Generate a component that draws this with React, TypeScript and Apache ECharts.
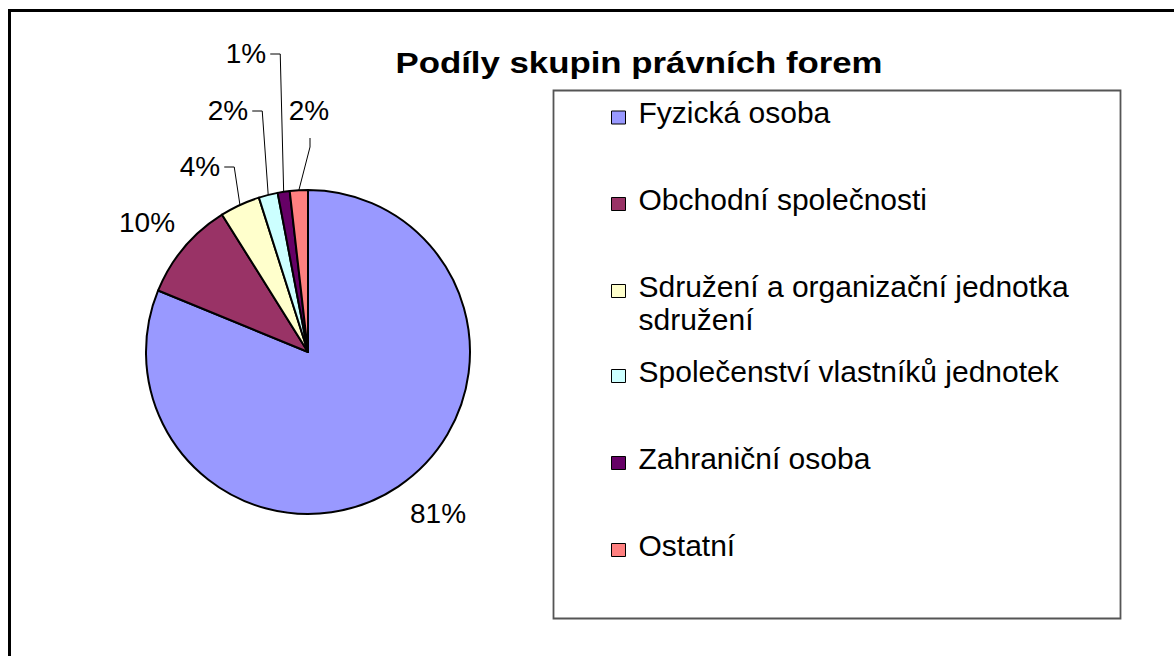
import React, { useEffect, useRef } from 'react';
import * as echarts from 'echarts';

// ---- data ----
const categories = [
  'Fyzická osoba',
  'Obchodní společnosti',
  'Sdružení a organizační jednotka sdružení',
  'Společenství vlastníků jednotek',
  'Zahraniční osoba',
  'Ostatní',
];
const shares = [81.2, 9.9, 4.0, 1.9, 1.2, 1.8];
const colors = ['#9999FF', '#993366', '#FFFFCC', '#CCFFFF', '#660066', '#FF8080'];
const titleText = 'Podíly skupin právních forem';

// ---- layout ----
const FONT = '"Liberation Sans", Arial, Helvetica, sans-serif';
const PIE_CENTER = [308, 352];
const PIE_RADIUS = 162;
const LABEL_CENTERS = [
  [438, 513],
  [147, 222],
  [200, 166],
  [228, 110],
  [246, 53],
  [309, 110],
];
const LEADER = ['none', 'none', 'side', 'side', 'side', 'below'];
const LEGEND_ICON_Y = [117.5, 204, 291, 376, 463, 550];

export default function App() {
  const ref = useRef<HTMLDivElement>(null);

  useEffect(() => {
    if (!ref.current) return;
    const chart = echarts.init(ref.current, undefined, { renderer: 'svg' });

    const legends = categories.map((name, i) => {
      const wrapped = /\ssdružení$/.test(name);
      return {
        data: [name],
        formatter: (n: string) =>
          wrapped ? '{t| }\n' + n.replace(/ (sdružení)$/, '\n$1') : n + '\n{s| }',
        orient: 'vertical',
        left: 611,
        top: LEGEND_ICON_Y[i] - (wrapped ? 44.5 : 21.5),
        padding: 0,
        icon: 'rect',
        itemWidth: 14,
        itemHeight: 13,
        itemGap: 0,
        selectedMode: false,
        itemStyle: { borderColor: '#000', borderWidth: 1 },
        textStyle: {
          fontSize: 30,
          lineHeight: 33,
          color: '#000',
          fontFamily: FONT,
          padding: [0, 0, 0, 8],
          rich: {
            s: { fontSize: 8, lineHeight: 10 },
            t: { fontSize: 8, lineHeight: 23 },
          },
        },
      };
    });

    const option: any = {
      animation: false,
      backgroundColor: '#fff',
      graphic: [
        {
          type: 'rect',
          z: 0,
          shape: { x: 9.5, y: 10.5, width: 1300, height: 800 },
          style: { fill: '#fff', stroke: '#000', lineWidth: 3 },
        },
        {
          type: 'rect',
          z: 1,
          shape: { x: 553.5, y: 90.5, width: 567, height: 528 },
          style: { fill: '#fff', stroke: '#555', lineWidth: 1.8 },
        },
        {
          type: 'text',
          z: 1,
          x: 639,
          y: 62.5,
          scaleX: 1.16,
          style: {
            text: titleText,
            fontSize: 30,
            fontWeight: 'bold',
            fontFamily: FONT,
            fill: '#000',
            align: 'center',
            verticalAlign: 'middle',
          },
        },
      ],
      legend: legends,
      series: [
        {
          type: 'pie',
          center: PIE_CENTER,
          radius: PIE_RADIUS,
          startAngle: 90,
          clockwise: true,
          avoidLabelOverlap: false,
          percentPrecision: 0,
          emphasis: { disabled: true },
          itemStyle: { borderColor: '#000', borderWidth: 2 },
          label: {
            show: true,
            position: 'outside',
            formatter: '{d}%',
            fontSize: 28,
            color: '#000',
            fontFamily: FONT,
          },
          labelLine: {
            show: true,
            length: 10,
            length2: 10,
            lineStyle: { color: '#000', width: 1 },
          },
          labelLayout: (p: any) => {
            const i = p.dataIndex;
            const [cx, cy] = LABEL_CENTERS[i];
            const res: any = { x: cx, y: cy, align: 'center', verticalAlign: 'middle' };
            const edge = p.labelLinePoints ? p.labelLinePoints[0] : null;
            const w = p.labelRect ? p.labelRect.width : 40;
            if (edge && LEADER[i] === 'side') {
              const sx = cx + w / 2 + 4;
              res.labelLinePoints = [
                [sx, cy + 1],
                [sx + 10, cy + 1],
                [edge[0], edge[1]],
              ];
            } else if (edge && LEADER[i] === 'below') {
              res.labelLinePoints = [
                [cx + 1, cy + 28],
                [cx + 1, cy + 37],
                [edge[0], edge[1]],
              ];
            }
            return res;
          },
          data: categories.map((name, i) => ({
            name,
            value: shares[i],
            itemStyle: { color: colors[i] },
            labelLine: { show: LEADER[i] !== 'none' },
          })),
        },
      ],
    };

    chart.setOption(option);
    return () => chart.dispose();
  }, []);

  return (
    <div
      ref={ref}
      style={{ position: 'fixed', left: 0, top: 0, width: 1174, height: 656, background: '#fff' }}
    />
  );
}
